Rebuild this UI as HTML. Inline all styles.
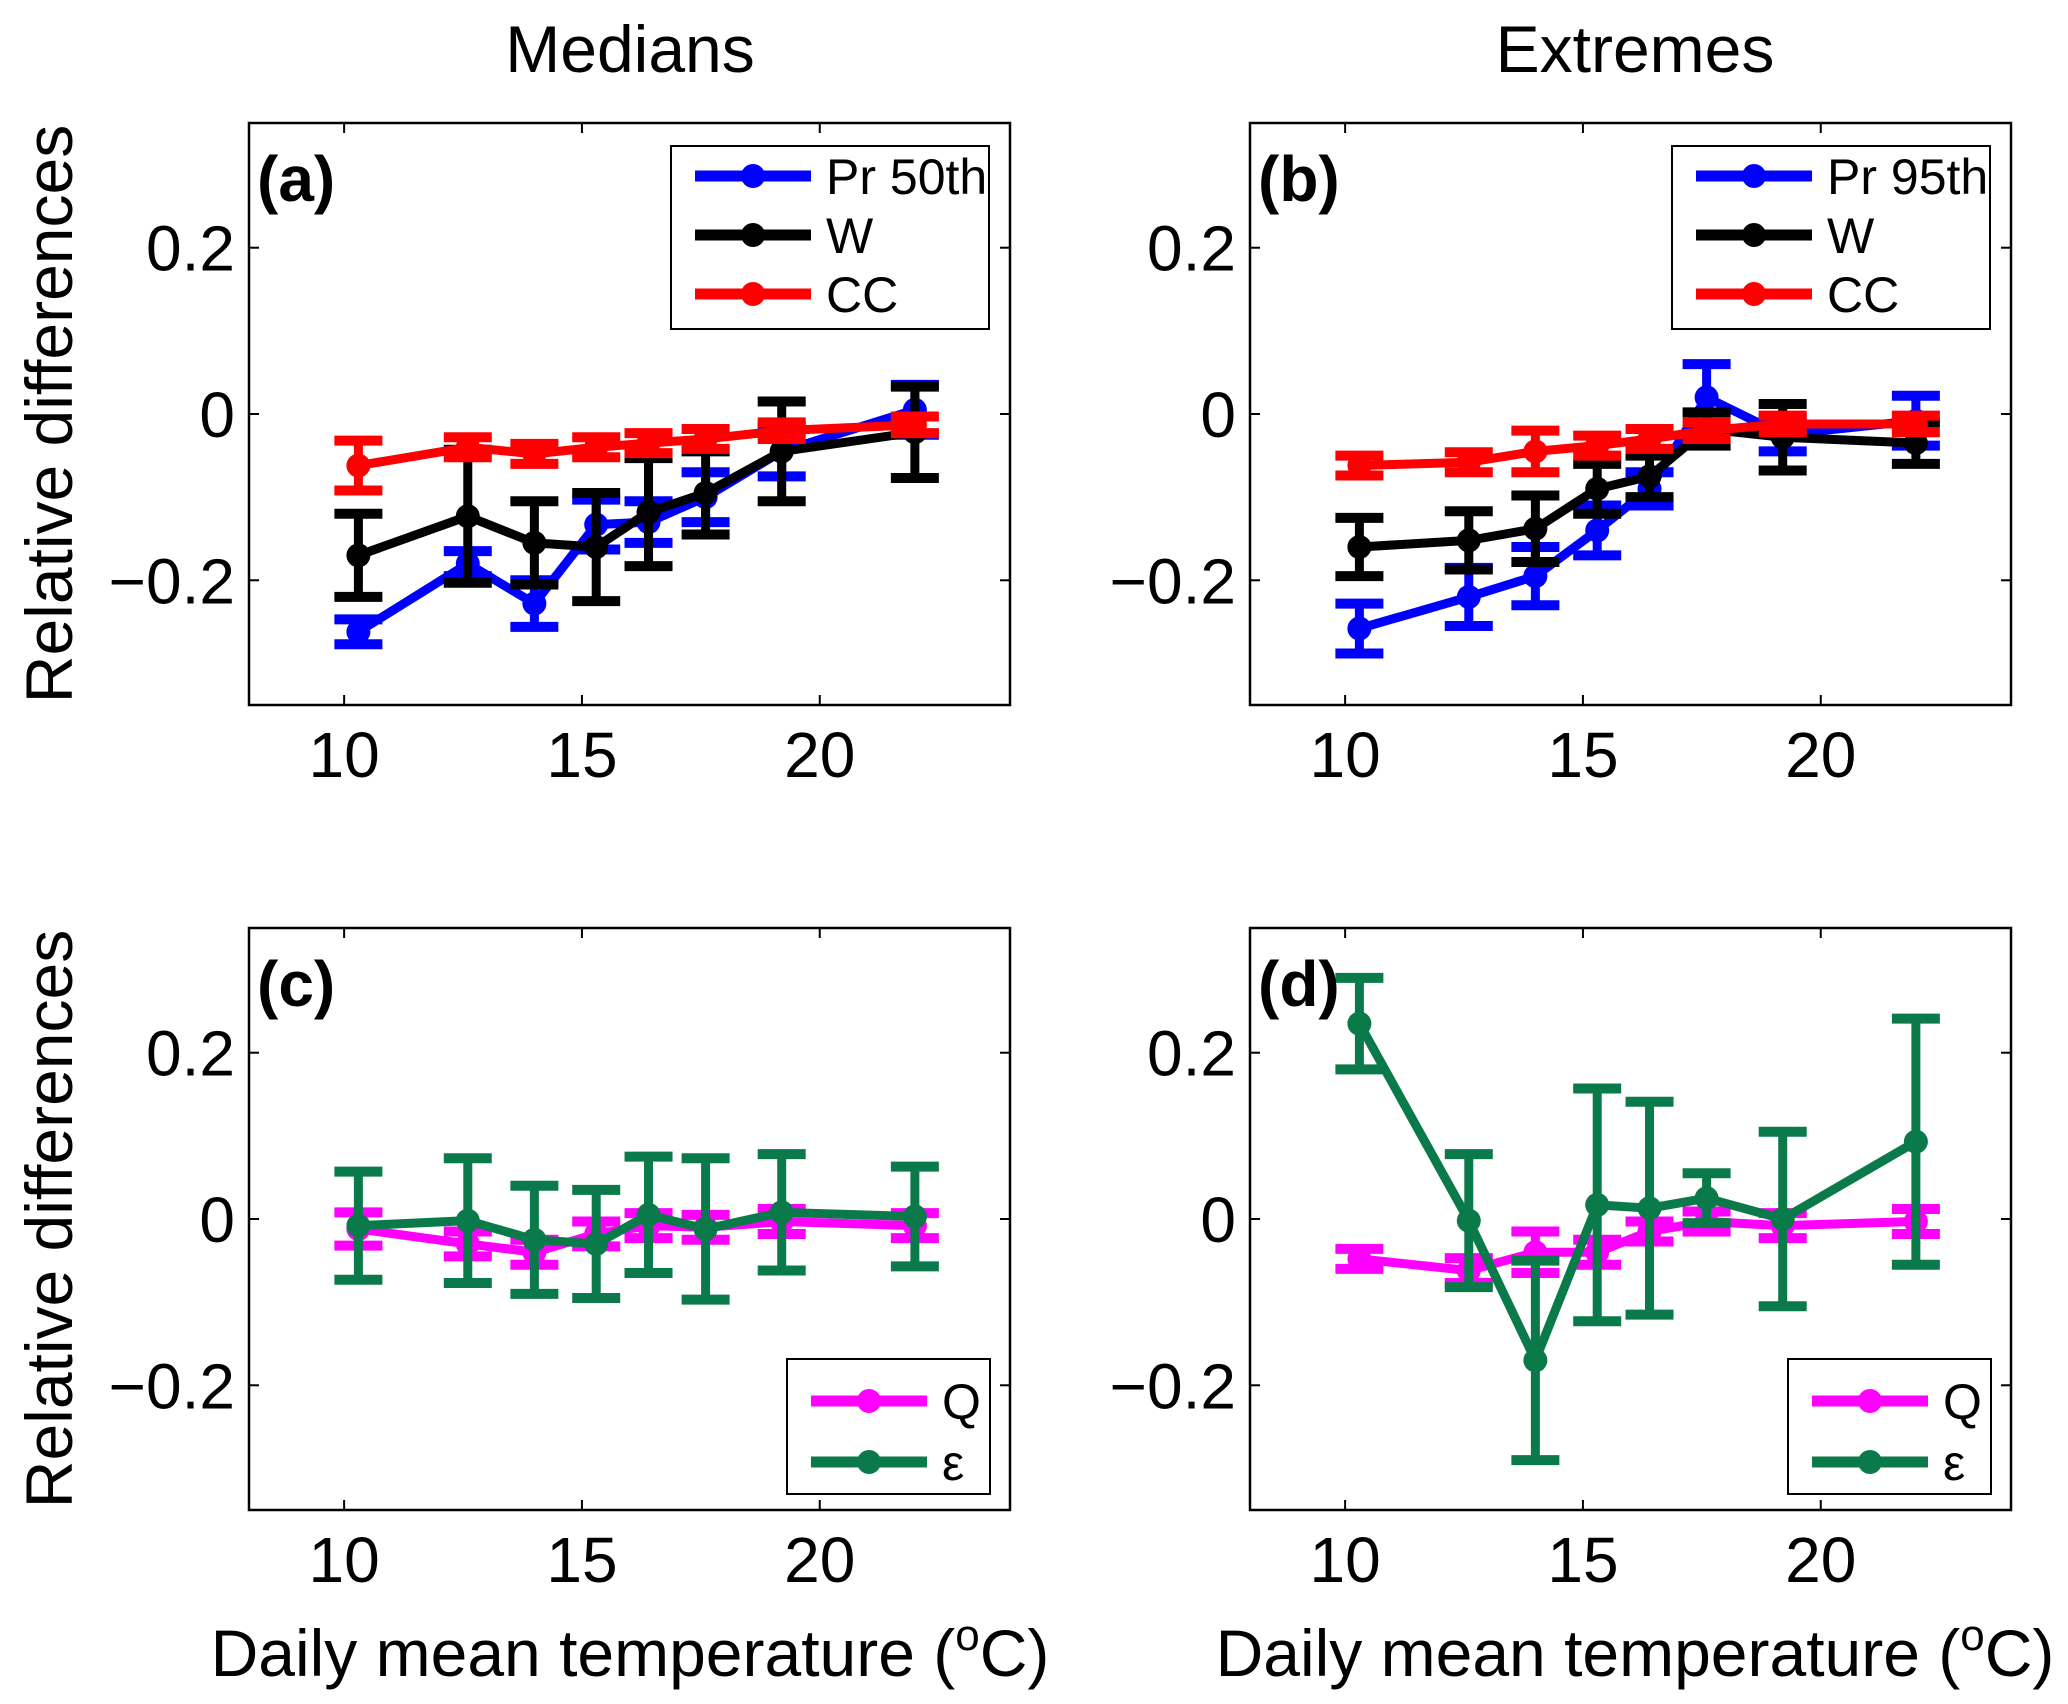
<!DOCTYPE html>
<html><head><meta charset="utf-8"><style>
html,body{margin:0;padding:0;background:#fff;}
svg{display:block;font-family:"Liberation Sans",sans-serif;}
</style></head><body>
<svg id="fig" width="2068" height="1704" viewBox="0 0 2068 1704" xmlns="http://www.w3.org/2000/svg">
<text x="630" y="72" font-size="66" text-anchor="middle">Medians</text>
<text x="1635" y="72" font-size="66" text-anchor="middle">Extremes</text>
<text transform="translate(72,414) rotate(-90)" font-size="66" text-anchor="middle">Relative differences</text>
<text transform="translate(72,1219) rotate(-90)" font-size="66" text-anchor="middle">Relative differences</text>
<text x="630" y="1676" font-size="66" text-anchor="middle">Daily mean temperature (<tspan dy="-26" font-size="44">o</tspan><tspan dy="26">C)</tspan></text>
<text x="1635" y="1676" font-size="66" text-anchor="middle">Daily mean temperature (<tspan dy="-26" font-size="44">o</tspan><tspan dy="26">C)</tspan></text>
</svg>
<script>
const xVals = [10.3, 12.6, 14.0, 15.3, 16.4, 17.6, 19.2, 22.0];
const xTicks = [10, 15, 20];
const yTicks = [-0.2, 0, 0.2];
const yTickLabels = ["\u22120.2", "0", "0.2"];
// panel a
const aPr = [-0.262, -0.18, -0.228, -0.133, -0.13, -0.10, -0.045, 0.005];
const aPrErr = [0.015, 0.015, 0.028, 0.03, 0.025, 0.03, 0.03, 0.03];
const aW = [-0.17, -0.123, -0.155, -0.16, -0.118, -0.095, -0.045, -0.022];
const aWErr = [0.05, 0.08, 0.05, 0.065, 0.065, 0.05, 0.06, 0.055];
const aCC = [-0.062, -0.04, -0.048, -0.04, -0.035, -0.03, -0.02, -0.013];
const aCCErr = [0.03, 0.012, 0.012, 0.012, 0.012, 0.012, 0.01, 0.01];
// panel b
const bPr = [-0.258, -0.22, -0.195, -0.14, -0.09, 0.02, -0.025, -0.008];
const bPrErr = [0.03, 0.035, 0.035, 0.03, 0.02, 0.04, 0.02, 0.03];
const bW = [-0.16, -0.152, -0.138, -0.09, -0.075, -0.018, -0.028, -0.035];
const bWErr = [0.035, 0.035, 0.04, 0.03, 0.025, 0.02, 0.04, 0.025];
const bCC = [-0.062, -0.058, -0.045, -0.038, -0.03, -0.02, -0.012, -0.012];
const bCCErr = [0.012, 0.012, 0.025, 0.012, 0.012, 0.01, 0.01, 0.01];
// panel c
const cQ = [-0.012, -0.03, -0.04, -0.018, -0.008, -0.01, -0.003, -0.008];
const cQErr = [0.02, 0.015, 0.015, 0.015, 0.015, 0.015, 0.015, 0.015];
const cEps = [-0.008, -0.002, -0.025, -0.03, 0.005, -0.012, 0.008, 0.003];
const cEpsErr = [0.065, 0.075, 0.065, 0.065, 0.07, 0.085, 0.07, 0.06];
// panel d
const dQ = [-0.048, -0.062, -0.04, -0.04, -0.015, -0.003, -0.008, -0.003];
const dQErr = [0.012, 0.015, 0.025, 0.015, 0.012, 0.012, 0.015, 0.015];
const dEps = [0.235, -0.002, -0.17, 0.017, 0.013, 0.025, 0.0, 0.093];
const dEpsErr = [0.055, 0.08, 0.12, 0.14, 0.128, 0.03, 0.105, 0.148];

const NS = "http://www.w3.org/2000/svg";
const svg = document.getElementById('fig');
function mk(tag, attrs, parent) {
  const e = document.createElementNS(NS, tag);
  for (const k in attrs) e.setAttribute(k, attrs[k]);
  (parent || svg).appendChild(e);
  return e;
}
const W = 761, H = 582;
function panel(id, left, top, label, series, legend) {
  const g = mk('g', {});
  
  
  const xs = v => left + (v - 8) / 16 * W;
  const ys = v => top + (0.35 - v) / 0.7 * H;
  const ax = mk('rect', {x: left, y: top, width: W, height: H, fill: 'none', stroke: '#000', 'stroke-width': 2.5}, g);
  
  
  xTicks.forEach(t => {
    const x = xs(t);
    mk('line', {x1: x, x2: x, y1: top + H, y2: top + H - 10, stroke: '#000', 'stroke-width': 2}, g);
    mk('line', {x1: x, x2: x, y1: top, y2: top + 10, stroke: '#000', 'stroke-width': 2}, g);
    const tl = mk('text', {x: x, y: top + H + 72, 'font-size': 64, 'text-anchor': 'middle'}, g);
    
    
    tl.textContent = t;
  });
  yTicks.forEach((t, i) => {
    const y = ys(t);
    mk('line', {x1: left, x2: left + 10, y1: y, y2: y, stroke: '#000', 'stroke-width': 2}, g);
    mk('line', {x1: left + W, x2: left + W - 10, y1: y, y2: y, stroke: '#000', 'stroke-width': 2}, g);
    const tl = mk('text', {x: left - 14, y: y + 23, 'font-size': 64, 'text-anchor': 'end'}, g);
    
    
    tl.textContent = yTickLabels[i];
  });
  series.forEach(s => {
    const sg = mk('g', {}, g);
    
    
    s.vals.forEach((v, i) => {
      const x = xs(xVals[i]), y1 = ys(v + s.err[i]), y2 = ys(v - s.err[i]);
      mk('line', {x1: x, x2: x, y1: y1, y2: y2, stroke: s.color, 'stroke-width': 9}, sg);
      mk('line', {x1: x - 24, x2: x + 24, y1: y1, y2: y1, stroke: s.color, 'stroke-width': 10}, sg);
      mk('line', {x1: x - 24, x2: x + 24, y1: y2, y2: y2, stroke: s.color, 'stroke-width': 10}, sg);
    });
    const pts = s.vals.map((v, i) => xs(xVals[i]) + ',' + ys(v)).join(' ');
    const pl = mk('polyline', {points: pts, fill: 'none', stroke: s.color, 'stroke-width': 9, 'stroke-linejoin': 'round'}, sg);
    
    
    s.vals.forEach((v, i) => {
      const c = mk('circle', {cx: xs(xVals[i]), cy: ys(v), r: 12, fill: s.color}, sg);
      
      
    });
  });
  const pl = mk('text', {x: left + 8, y: top + 78, 'font-size': 64, 'font-weight': 'bold'}, g);
  
  
  pl.textContent = label;
  // legend
  const lg = mk('g', {}, g);
  
  
  mk('rect', {x: legend.x, y: legend.y, width: legend.w, height: legend.h, fill: '#fff', stroke: '#000', 'stroke-width': 2}, lg);
  series.forEach((s, i) => {
    const yy = legend.y + legend.first + i * legend.step;
    const eg = mk('g', {}, lg);
    
    
    mk('line', {x1: legend.x + 24, x2: legend.x + 140, y1: yy, y2: yy, stroke: s.color, 'stroke-width': 11}, eg);
    mk('circle', {cx: legend.x + 82, cy: yy, r: 12, fill: s.color}, eg);
    const t = mk('text', {x: legend.x + 155, y: yy + 18, 'font-size': 50}, eg);
    t.textContent = s.label;
  });
}
panel('a', 249, 123, '(a)', [
  {name: 'pr50', label: 'Pr 50th', color: '#0000ff', vals: aPr, err: aPrErr},
  {name: 'w', label: 'W', color: '#000000', vals: aW, err: aWErr},
  {name: 'cc', label: 'CC', color: '#ff0000', vals: aCC, err: aCCErr}
], {x: 671, y: 146, w: 318, h: 183, first: 30, step: 59});
panel('b', 1250, 123, '(b)', [
  {name: 'pr95', label: 'Pr 95th', color: '#0000ff', vals: bPr, err: bPrErr},
  {name: 'w', label: 'W', color: '#000000', vals: bW, err: bWErr},
  {name: 'cc', label: 'CC', color: '#ff0000', vals: bCC, err: bCCErr}
], {x: 1672, y: 146, w: 318, h: 183, first: 30, step: 59});
panel('c', 249, 928, '(c)', [
  {name: 'q', label: 'Q', color: '#ff00ff', vals: cQ, err: cQErr},
  {name: 'epsilon', label: '\u03b5', color: '#0b7a4a', vals: cEps, err: cEpsErr}
], {x: 787, y: 1359, w: 203, h: 135, first: 42, step: 61});
panel('d', 1250, 928, '(d)', [
  {name: 'q', label: 'Q', color: '#ff00ff', vals: dQ, err: dQErr},
  {name: 'epsilon', label: '\u03b5', color: '#0b7a4a', vals: dEps, err: dEpsErr}
], {x: 1788, y: 1359, w: 203, h: 135, first: 42, step: 61});
</script>
</body></html>
